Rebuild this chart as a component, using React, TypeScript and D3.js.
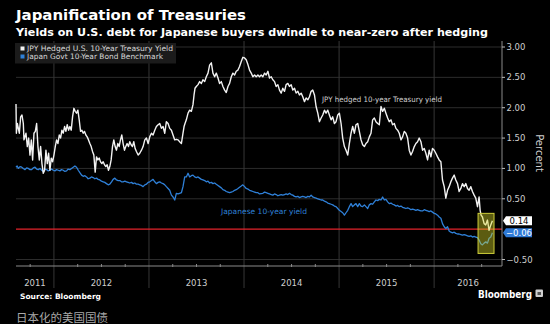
import React from 'react';
import * as d3 from 'd3';

// JPY hedged U.S. 10-year Treasury yield, [decimal year, percent]
const hedgedSeries: [number, number][] = [
  [2011.601,2.06],[2011.605,1.58],[2011.615,1.74],[2011.636,1.58],[2011.650,1.85],[2011.664,1.88],[2011.678,1.74],[2011.685,1.47],[2011.706,1.58],[2011.720,1.36],[2011.734,1.50],[2011.748,1.22],[2011.762,1.47],[2011.776,1.14],[2011.790,1.58],[2011.804,1.61],[2011.818,1.74],[2011.832,1.36],[2011.846,1.14],[2011.860,1.36],[2011.874,1.08],[2011.888,0.92],[2011.902,0.97],[2011.916,1.30],[2011.930,1.08],[2011.944,1.25],[2011.958,0.97],[2011.972,1.17],[2011.986,1.11],
  [2012.000,1.22],[2012.014,1.36],[2012.028,1.47],[2012.042,1.41],[2012.056,1.55],[2012.070,1.50],[2012.084,1.63],[2012.098,1.58],[2012.112,1.69],[2012.126,1.61],[2012.140,1.72],[2012.154,1.63],[2012.168,1.69],[2012.182,1.63],[2012.196,1.85],[2012.210,1.99],[2012.224,1.94],[2012.238,1.91],[2012.252,1.96],[2012.266,1.80],[2012.280,1.61],[2012.294,1.63],[2012.308,1.58],[2012.322,1.61],[2012.336,1.55],[2012.350,1.52],[2012.364,1.47],[2012.378,1.41],[2012.392,1.36],[2012.406,1.28],[2012.420,1.22],[2012.434,0.94],[2012.448,1.19],[2012.462,1.14],[2012.476,1.17],[2012.490,1.11],[2012.504,1.08],[2012.518,1.11],[2012.532,1.06],[2012.546,1.03],[2012.560,1.06],[2012.574,0.97],[2012.588,1.03],[2012.602,1.14],[2012.616,1.36],[2012.630,1.47],[2012.644,1.36],[2012.658,1.30],[2012.672,1.41],[2012.686,1.36],[2012.700,1.47],[2012.714,1.55],[2012.728,1.41],[2012.742,1.30],[2012.756,1.36],[2012.770,1.41],[2012.784,1.36],[2012.798,1.44],[2012.812,1.39],[2012.826,1.36],[2012.840,1.44],[2012.854,1.33],[2012.868,1.28],[2012.886,1.22],
  [2012.903,1.25],[2012.921,1.30],[2012.938,1.36],[2012.956,1.47],[2012.973,1.50],[2012.991,1.41],[2013.008,1.52],[2013.026,1.58],[2013.043,1.55],[2013.061,1.63],[2013.078,1.69],[2013.096,1.72],[2013.113,1.74],[2013.131,1.66],[2013.148,1.69],[2013.166,1.58],[2013.183,1.77],[2013.201,1.74],[2013.218,1.66],[2013.236,1.63],[2013.253,1.55],[2013.271,1.47],[2013.288,1.48],[2013.306,1.47],[2013.323,1.44],[2013.341,1.41],[2013.358,1.58],[2013.369,1.69],[2013.379,1.74],[2013.393,1.80],[2013.411,1.91],[2013.428,1.96],[2013.446,1.94],[2013.463,2.05],[2013.474,2.21],[2013.484,2.32],[2013.498,2.35],[2013.516,2.38],[2013.533,2.43],[2013.551,2.40],[2013.568,2.46],[2013.586,2.43],[2013.603,2.51],[2013.621,2.57],[2013.638,2.70],[2013.656,2.74],[2013.673,2.57],[2013.691,2.51],[2013.708,2.57],[2013.726,2.49],[2013.743,2.40],[2013.761,2.43],[2013.778,2.35],[2013.796,2.29],[2013.813,2.25],[2013.831,2.35],[2013.848,2.40],[2013.866,2.51],[2013.883,2.57],[2013.901,2.54],[2013.918,2.60],[2013.936,2.62],[2013.953,2.68],[2013.971,2.76],[2013.988,2.83],[2014.006,2.82],[2014.023,2.79],[2014.041,2.71],[2014.058,2.62],[2014.076,2.57],[2014.093,2.51],[2014.111,2.54],[2014.128,2.51],[2014.146,2.54],[2014.163,2.51],
  [2014.181,2.54],[2014.198,2.51],[2014.216,2.57],[2014.233,2.54],[2014.251,2.60],[2014.268,2.49],[2014.286,2.51],[2014.303,2.46],[2014.321,2.43],[2014.338,2.35],[2014.356,2.38],[2014.373,2.29],[2014.391,2.24],[2014.408,2.32],[2014.426,2.27],[2014.443,2.38],[2014.461,2.40],[2014.478,2.35],[2014.496,2.38],[2014.513,2.29],[2014.531,2.32],[2014.548,2.24],[2014.566,2.27],[2014.583,2.21],[2014.601,2.24],[2014.618,2.18],[2014.636,2.10],[2014.653,2.16],[2014.671,2.13],[2014.688,2.18],[2014.706,2.27],[2014.723,2.29],[2014.741,2.21],[2014.758,2.02],[2014.776,1.91],[2014.793,1.77],[2014.811,1.83],[2014.828,1.88],[2014.846,1.96],[2014.863,1.91],[2014.881,1.96],[2014.898,1.88],[2014.916,1.80],[2014.933,1.85],[2014.951,1.74],[2014.968,1.77],[2014.986,1.88],[2015.003,1.91],[2015.021,1.74],[2015.038,1.50],[2015.056,1.36],[2015.073,1.30],[2015.091,1.22],[2015.108,1.41],[2015.126,1.58],[2015.143,1.69],[2015.161,1.58],[2015.178,1.72],[2015.196,1.74],[2015.213,1.61],[2015.231,1.47],[2015.248,1.39],[2015.266,1.36],[2015.283,1.41],[2015.301,1.44],[2015.318,1.52],[2015.336,1.58],[2015.353,1.80],[2015.371,1.83],[2015.388,1.77],[2015.406,1.74],[2015.423,1.72],
  [2015.441,2.02],[2015.458,1.94],[2015.476,1.99],[2015.493,1.91],[2015.511,1.83],[2015.528,1.77],[2015.546,1.80],[2015.563,1.72],[2015.581,1.74],[2015.598,1.66],[2015.616,1.63],[2015.633,1.58],[2015.651,1.47],[2015.668,1.52],[2015.686,1.61],[2015.703,1.58],[2015.721,1.50],[2015.738,1.30],[2015.756,1.22],[2015.773,1.28],[2015.791,1.36],[2015.808,1.41],[2015.826,1.44],[2015.843,1.50],[2015.861,1.44],[2015.878,1.30],[2015.896,1.33],[2015.913,1.25],[2015.931,1.14],[2015.948,1.30],[2015.966,1.19],[2015.983,1.33],[2016.001,1.30],[2016.018,1.25],[2016.036,1.19],[2016.053,1.14],[2016.071,1.11],[2016.088,0.81],[2016.106,0.70],[2016.123,0.51],[2016.141,0.64],[2016.158,0.70],[2016.176,0.78],[2016.193,0.84],[2016.211,0.89],[2016.228,0.81],[2016.246,0.75],[2016.263,0.62],[2016.281,0.67],[2016.298,0.75],[2016.316,0.70],[2016.333,0.75],[2016.351,0.67],[2016.368,0.64],[2016.386,0.70],[2016.403,0.62],[2016.421,0.56],[2016.438,0.51],[2016.456,0.37],[2016.473,0.53],[2016.484,0.31],[2016.494,0.23],[2016.508,0.20],[2016.526,0.09],[2016.543,0.07],[2016.561,0.15],[2016.578,-0.02],[2016.596,0.07],[2016.613,0.14],
];

// Japan Govt 10-year bond benchmark yield, [decimal year, percent]
const jgbSeries: [number, number][] = [
  [2011.601,1.02],[2011.613,1.04],[2011.626,1.00],[2011.643,1.03],[2011.661,1.02],[2011.678,1.00],[2011.696,0.98],[2011.713,1.01],[2011.731,1.00],[2011.748,0.98],[2011.766,0.98],[2011.783,1.01],[2011.801,1.02],[2011.818,0.99],[2011.836,0.98],[2011.853,1.00],[2011.871,0.97],[2011.888,0.95],[2011.905,0.99],[2011.923,0.98],[2011.940,0.96],[2011.958,0.97],[2011.975,0.99],[2011.993,0.97],[2012.010,0.96],[2012.028,0.98],[2012.045,0.97],[2012.063,0.96],[2012.080,0.98],[2012.098,0.97],[2012.115,0.95],[2012.133,0.96],[2012.150,0.99],[2012.168,0.98],[2012.185,1.00],[2012.203,1.02],[2012.221,1.04],[2012.238,1.02],[2012.256,0.97],[2012.273,0.93],[2012.291,0.89],[2012.308,0.87],[2012.326,0.88],[2012.343,0.86],[2012.360,0.83],[2012.378,0.84],[2012.395,0.86],[2012.413,0.85],[2012.430,0.83],[2012.448,0.84],[2012.465,0.82],[2012.483,0.81],[2012.500,0.79],[2012.518,0.78],[2012.535,0.77],[2012.553,0.75],[2012.571,0.73],[2012.588,0.74],[2012.606,0.78],[2012.623,0.82],[2012.641,0.84],[2012.658,0.81],[2012.676,0.80],[2012.693,0.80],[2012.711,0.78],[2012.728,0.78],[2012.746,0.79],[2012.763,0.78],[2012.781,0.77],[2012.798,0.76],[2012.816,0.77],[2012.833,0.75],[2012.851,0.76],[2012.868,0.74],[2012.886,0.74],[2012.903,0.73],[2012.920,0.72],
  [2012.938,0.70],[2012.956,0.73],[2012.973,0.74],[2012.991,0.77],[2013.008,0.78],[2013.026,0.80],[2013.043,0.82],[2013.061,0.78],[2013.078,0.75],[2013.096,0.77],[2013.113,0.78],[2013.131,0.76],[2013.148,0.75],[2013.166,0.73],[2013.183,0.70],[2013.201,0.67],[2013.218,0.64],[2013.236,0.56],[2013.253,0.53],[2013.271,0.48],[2013.288,0.59],[2013.306,0.58],[2013.323,0.59],[2013.341,0.60],[2013.358,0.70],[2013.376,0.86],[2013.393,0.86],[2013.411,0.92],[2013.428,0.86],[2013.446,0.88],[2013.463,0.89],[2013.481,0.86],[2013.498,0.85],[2013.516,0.86],[2013.533,0.84],[2013.551,0.82],[2013.568,0.81],[2013.586,0.80],[2013.603,0.78],[2013.621,0.79],[2013.638,0.76],[2013.656,0.77],[2013.673,0.75],[2013.691,0.76],[2013.708,0.74],[2013.726,0.72],[2013.743,0.70],[2013.761,0.68],[2013.778,0.65],[2013.796,0.64],[2013.813,0.62],[2013.831,0.61],[2013.848,0.60],[2013.866,0.61],[2013.883,0.62],[2013.901,0.64],[2013.918,0.65],[2013.936,0.67],[2013.953,0.69],[2013.971,0.71],[2013.988,0.73],[2014.006,0.70],[2014.023,0.67],[2014.041,0.66],[2014.058,0.64],[2014.076,0.63],[2014.093,0.62],[2014.111,0.61],[2014.128,0.60],[2014.146,0.60],[2014.163,0.58],
  [2014.198,0.59],[2014.216,0.61],[2014.233,0.60],[2014.251,0.59],[2014.268,0.58],[2014.286,0.57],[2014.303,0.56],[2014.321,0.58],[2014.338,0.57],[2014.356,0.55],[2014.373,0.56],[2014.391,0.57],[2014.408,0.56],[2014.426,0.57],[2014.443,0.58],[2014.461,0.57],[2014.478,0.59],[2014.496,0.57],[2014.513,0.56],[2014.531,0.54],[2014.548,0.53],[2014.566,0.54],[2014.583,0.52],[2014.601,0.53],[2014.618,0.54],[2014.636,0.53],[2014.653,0.52],[2014.671,0.54],[2014.688,0.53],[2014.706,0.56],[2014.723,0.53],[2014.741,0.52],[2014.758,0.51],[2014.776,0.50],[2014.793,0.49],[2014.811,0.48],[2014.828,0.48],[2014.846,0.46],[2014.863,0.45],[2014.881,0.43],[2014.898,0.42],[2014.916,0.41],[2014.933,0.40],[2014.951,0.38],[2014.968,0.37],[2014.986,0.34],[2015.003,0.31],[2015.021,0.29],[2015.038,0.27],[2015.056,0.23],[2015.073,0.27],[2015.091,0.31],[2015.108,0.37],[2015.126,0.42],[2015.143,0.37],[2015.161,0.40],[2015.178,0.42],[2015.196,0.37],[2015.213,0.42],[2015.231,0.38],[2015.248,0.37],[2015.266,0.40],[2015.283,0.37],[2015.301,0.34],[2015.318,0.40],[2015.336,0.42],[2015.353,0.41],[2015.371,0.45],[2015.388,0.48],[2015.406,0.47],[2015.423,0.49],
  [2015.441,0.48],[2015.458,0.53],[2015.476,0.48],[2015.493,0.49],[2015.511,0.45],[2015.528,0.42],[2015.546,0.43],[2015.563,0.41],[2015.581,0.40],[2015.598,0.38],[2015.616,0.39],[2015.633,0.37],[2015.651,0.38],[2015.668,0.36],[2015.686,0.35],[2015.703,0.34],[2015.721,0.35],[2015.738,0.34],[2015.756,0.32],[2015.773,0.33],[2015.791,0.32],[2015.808,0.31],[2015.826,0.32],[2015.843,0.31],[2015.861,0.30],[2015.878,0.30],[2015.896,0.32],[2015.913,0.31],[2015.931,0.30],[2015.948,0.29],[2015.966,0.30],[2015.983,0.28],[2016.001,0.26],[2016.018,0.25],[2016.036,0.23],[2016.053,0.20],[2016.071,0.18],[2016.088,0.09],[2016.106,0.04],[2016.123,0.01],[2016.141,0.04],[2016.158,-0.03],[2016.176,-0.05],[2016.193,-0.06],[2016.211,-0.05],[2016.228,-0.07],[2016.246,-0.08],[2016.263,-0.08],[2016.281,-0.09],[2016.298,-0.10],[2016.316,-0.09],[2016.333,-0.10],[2016.351,-0.11],[2016.368,-0.12],[2016.386,-0.11],[2016.403,-0.13],[2016.421,-0.12],[2016.438,-0.13],[2016.456,-0.14],[2016.473,-0.18],[2016.491,-0.24],[2016.508,-0.26],[2016.526,-0.23],[2016.543,-0.21],[2016.561,-0.23],[2016.578,-0.15],[2016.596,-0.13],[2016.613,-0.06],
];

const yTickValues = [3, 2.5, 2, 1.5, 1, 0.5, -0.5];
const gridValues = [3, 2.5, 2, 1.5, 1, 0.5, -0.5];
const yearLabels = [2011, 2012, 2013, 2014, 2015, 2016];
const quarterTicks = [2011.75, 2012.25, 2012.5, 2012.75, 2013.25, 2013.5, 2013.75, 2014.25, 2014.5, 2014.75, 2015.25, 2015.5, 2015.75, 2016.25, 2016.5];
const xDomain = [2011.601, 2016.714];
const yDomain = [-0.5, 3];
const lastHedged = 0.14;
const lastJgb = -0.06;
const highlightX = [2016.462, 2016.63];
const highlightY = [0.26, -0.4];

const title = 'Japanification of Treasuries';
const subtitle = 'Yields on U.S. debt for Japanese buyers dwindle to near-zero after hedging';
const legendLabels = ['JPY Hedged U.S. 10-Year Treasury Yield', 'Japan Govt 10-Year Bond Benchmark'];
const hedgedNote = 'JPY hedged 10-year Treasury yield';
const jgbNote = 'Japanese 10-year yield';
const caption = '日本化的美国国债';

const W = 550, H = 324;
const L = 16, R = 502, TOP = 41, AXIS_Y = 266;
const WHITE = '#f2f2f2';
const BLUE = '#2f80d8';
const FONT = "'DejaVu Sans', sans-serif";

export default function App() {
  const x = d3.scaleLinear().domain(xDomain).range([L, R]);
  const y = d3.scaleLinear().domain(yDomain).range([259.5, 47]);
  const line = d3.line<[number, number]>().x(d => x(d[0])).y(d => y(d[1]));

  const fmt = d3.format('.2f');
  const labelBox = (v: number, fill: string, color: string) => {
    const cy = y(v);
    const h = 9;
    const p = `M${R + 1},${cy} L${R + 4},${cy - h / 2} L${R + 30},${cy - h / 2} L${R + 30},${cy + h / 2} L${R + 4},${cy + h / 2} Z`;
    return (
      <g>
        <path d={p} fill={fill} />
        <text x={R + 17} y={cy + 3} fontSize={8.5} fill={color} textAnchor="middle" fontFamily={FONT}>{fmt(v)}</text>
      </g>
    );
  };

  return (
    <div style={{ position: 'fixed', left: 0, top: 0, width: W, height: H, background: '#000' }}>
      <svg width={W} height={H} style={{ display: 'block' }}>
        <rect width={W} height={H} fill="#000" />
        <text x={16} y={20} fontSize={14} fontWeight="bold" fill="#fff" fontFamily={FONT} textLength={230} lengthAdjust="spacingAndGlyphs">{title}</text>
        <text x={16} y={35.5} fontSize={11} fontWeight="bold" fill="#fff" fontFamily={FONT} textLength={472} lengthAdjust="spacingAndGlyphs">{subtitle}</text>

        {/* horizontal grid */}
        {gridValues.map(v => (
          <line key={'g' + v} x1={L} x2={R} y1={y(v)} y2={y(v)} stroke="#2c2c2c" strokeWidth={1} />
        ))}
        {/* year separators */}
        {yearLabels.slice(1).map(yr => (
          <line key={'yl' + yr} x1={x(yr)} x2={x(yr)} y1={TOP} y2={288} stroke="#363636" strokeWidth={1} />
        ))}

        {/* legend */}
        <rect x={15} y={43} width={161} height={20.5} fill="#1b1b1b" />
        <rect x={20.5} y={46.5} width={4} height={4} fill={WHITE} />
        <rect x={20.5} y={54.5} width={4} height={4} fill={BLUE} />
        <text x={27} y={51} fontSize={7.5} fill="#d8d8d8" fontFamily={FONT} textLength={146} lengthAdjust="spacingAndGlyphs">{legendLabels[0]}</text>
        <text x={27} y={59} fontSize={7.5} fill="#d8d8d8" fontFamily={FONT} textLength={136} lengthAdjust="spacingAndGlyphs">{legendLabels[1]}</text>

        {/* zero line */}
        <line x1={L} x2={R} y1={y(0)} y2={y(0)} stroke="#e3232b" strokeWidth={1.3} />

        {/* series */}
        <path d={line(jgbSeries) || ''} fill="none" stroke={BLUE} strokeWidth={1.3} strokeLinejoin="round" />
        <path d={line(hedgedSeries) || ''} fill="none" stroke={WHITE} strokeWidth={1.4} strokeLinejoin="round" />

        {/* highlight */}
        <rect x={x(highlightX[0])} y={y(highlightY[0])} width={x(highlightX[1]) - x(highlightX[0])} height={y(highlightY[1]) - y(highlightY[0])}
          fill="rgba(220,220,40,0.42)" stroke="#cfcf3a" strokeWidth={1} />

        {/* annotations */}
        <text x={322} y={101.5} fontSize={7.5} fill="#cfcfcf" fontFamily={FONT} textLength={120} lengthAdjust="spacingAndGlyphs">{hedgedNote}</text>
        <text x={221} y={214} fontSize={7.5} fill={BLUE} fontFamily={FONT} textLength={86} lengthAdjust="spacingAndGlyphs">{jgbNote}</text>

        {/* x axis */}
        <line x1={L} x2={R} y1={AXIS_Y} y2={AXIS_Y} stroke="#8a8a8a" strokeWidth={1} />
        {quarterTicks.map(q => (
          <line key={'q' + q} x1={x(q)} x2={x(q)} y1={AXIS_Y - 2} y2={AXIS_Y + 1} stroke="#8a8a8a" strokeWidth={1} />
        ))}
        {yearLabels.map(yr => {
          const a = Math.max(x(yr), L);
          const b = Math.min(x(yr + 1), R);
          return (
            <text key={'yt' + yr} x={(a + b) / 2} y={285.5} fontSize={8.5} fill="#cfcfcf" textAnchor="middle" fontFamily={FONT}>{yr}</text>
          );
        })}

        {/* right axis */}
        <line x1={R} x2={R} y1={TOP} y2={AXIS_Y} stroke="#8a8a8a" strokeWidth={1} />
        {yTickValues.map(v => (
          <g key={'yt' + v}>
            <line x1={R} x2={R + 3} y1={y(v)} y2={y(v)} stroke="#bbbbbb" strokeWidth={1} />
            <text x={R + 4.5} y={y(v) + 3} fontSize={8.5} fill="#cfcfcf" fontFamily={FONT}>{fmt(v)}</text>
          </g>
        ))}
        <text transform={`translate(536,${153}) rotate(90)`} fontSize={10} fill="#cfcfcf" textAnchor="middle" fontFamily={FONT}>Percent</text>

        {labelBox(lastHedged, '#ffffff', '#000')}
        {labelBox(lastJgb, '#2f7ad6', '#fff')}

        {/* footer */}
        <text x={20} y={298.5} fontSize={7.5} fontWeight="bold" fill="#fff" fontFamily={FONT} textLength={81} lengthAdjust="spacingAndGlyphs">Source: Bloomberg</text>
        <text x={478} y={297.5} fontSize={10} fontWeight="bold" fill="#fff" fontFamily={FONT} textLength={54} lengthAdjust="spacingAndGlyphs">Bloomberg</text>
        <rect x={535.5} y={289.5} width={7.5} height={7.5} rx={1} fill="#cfcfcf" />
        <rect x={537.5} y={292} width={3.5} height={3} fill="#555" />
        <text x={16} y={322} fontSize={11.5} fill="#a8a8a8" fontFamily="'Noto Sans CJK SC', sans-serif" textLength={92} lengthAdjust="spacingAndGlyphs">{caption}</text>
      </svg>
    </div>
  );
}
